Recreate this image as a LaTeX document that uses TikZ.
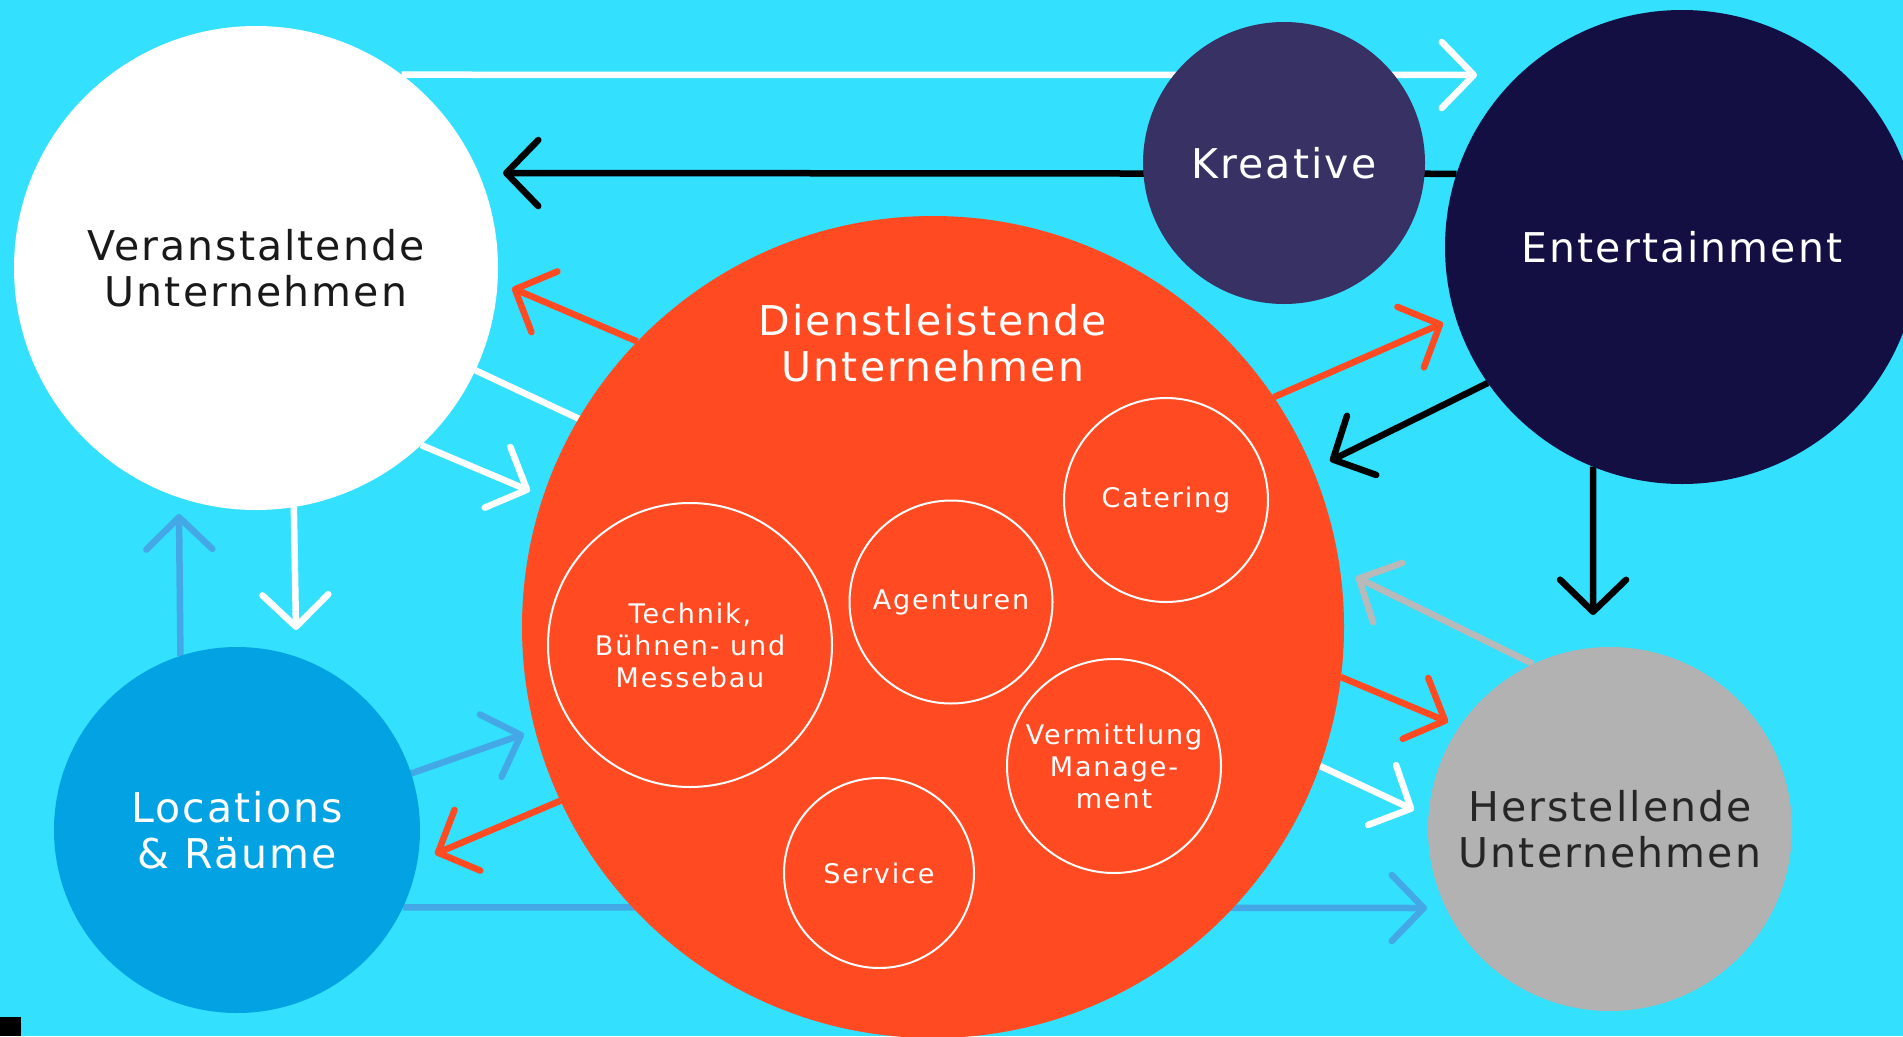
\documentclass[tikz,border=0pt]{standalone}
\usepackage{fontspec}
\setmainfont{DejaVu Sans}
\newfontfamily\bubblefont[LetterSpace=5]{DejaVu Sans}
\newfontfamily\partfont[LetterSpace=7]{DejaVu Sans}
\usetikzlibrary{arrows.meta}
\definecolor{skycyan}{HTML}{33E0FE}
\definecolor{dienstred}{HTML}{FF4A22}
\definecolor{kreaviolet}{HTML}{373263}
\definecolor{entnavy}{HTML}{130F42}
\definecolor{locblue}{HTML}{03A2E2}
\definecolor{hergray}{HTML}{B2B2B2}
\definecolor{flowblue}{HTML}{45A8E6}
\definecolor{flowgray}{HTML}{B9B9B9}
\pgfdeclarelayer{back}
\pgfsetlayers{back,main}
\tikzset{
  bubble/.style={circle, inner sep=0pt, outer sep=0pt, align=center, font=\bubblefont\fontsize{41}{46}\selectfont},
  part/.style={circle, draw=white, line width=2pt, inner sep=0pt, outer sep=0pt, align=center, text=white, font=\partfont\fontsize{27}{32}\selectfont},
  flow/.style={line width=6.5pt, -{Straight Barb[length=32pt, width=66pt, round]}}
}

\begin{document}
\begin{tikzpicture}[x=1pt, y=-1pt]
        \useasboundingbox (0,0) rectangle (1903,1036);
        \begin{pgfonlayer}{back}
        \fill[skycyan] (0,0) rectangle (1903,1036);
        \end{pgfonlayer}
        \node (ver) at (256, 268) [bubble, fill=white, text=black!90, minimum size=484pt] {Veranstaltende\\Unternehmen};
        \node (ent) at (1682, 247) [bubble, fill=entnavy, text=white, minimum size=474pt] {Entertainment};
        \node (kre) at (1284, 163) [bubble, fill=kreaviolet, text=white, minimum size=282pt] {Kreative};
        \node (dis) at (933, 627) [circle, fill=dienstred, inner sep=0pt, outer sep=0pt, minimum size=822pt] {};
        \node (distitle) at (933, 343) [align=center, text=white, font=\bubblefont\fontsize{41}{46}\selectfont] {Dienstleistende\\Unternehmen};
        \node (loc) at (237, 830) [bubble, fill=locblue, text=white, minimum size=366pt] {Locations\\\& Räume};
        \node (her) at (1610, 829) [bubble, fill=hergray, text=black!85, minimum size=364pt] {Herstellende\\Unternehmen};
        \node (tec) at (690, 645) [part, minimum size=284pt] {Technik,\\Bühnen- und\\Messebau};
        \node (age) at (951, 602) [part, minimum size=203pt] {Agenturen};
        \node (cat) at (1166, 500) [part, minimum size=204pt] {Catering};
        \node (vmi) at (1114, 766) [part, minimum size=214pt] {Vermittlung\\Manage-\\ment};
        \node (ser) at (879, 873) [part, minimum size=190pt] {Service};
        \fill[black] (0,1017) rectangle (21,1036);
        \coordinate (tipentw) at (1477, 75);
        \coordinate (tipverb) at (503, 173);
        \coordinate (tipverr) at (512, 288);
        \coordinate (tipherw) at (1414, 810);
        \coordinate (tipdisw) at (530, 491);
        \coordinate (tiplocw) at (296, 630);
        \coordinate (tipverl) at (179, 514);
        \coordinate (tipdisl) at (524, 734);
        \coordinate (tiplocr) at (435, 854);
        \coordinate (tipherl) at (1427, 908);
        \coordinate (tipdisg) at (1356, 577);
        \coordinate (tipherr) at (1448, 722);
        \coordinate (tipdisb) at (1330, 461);
        \coordinate (tipentr) at (1443, 323);
        \coordinate (tipherb) at (1593, 615);
        \begin{pgfonlayer}{back}
        \draw[flow, white] (ver.53) -- (tipentw);
        \draw[flow, black] (ent.162) -- (tipverb);
        \draw[flow, dienstred] (dis.136) -- (tipverr);
        \draw[flow, white] (ver.-25) -- (tipherw);
        \draw[flow, white] (ver.-47) -- (tipdisw);
        \draw[flow, white] (ver.-81) -- (tiplocw);
        \draw[flow, flowblue] (loc.108) -- (tipverl);
        \draw[flow, flowblue] (loc.18) -- (tipdisl);
        \draw[flow, dienstred] (dis.205) -- (tiplocr);
        \draw[flow, flowblue] (loc.-25) -- (tipherl);
        \draw[flow, flowgray] (her.115) -- (tipdisg);
        \draw[flow, dienstred] (dis.-7) -- (tipherr);
        \draw[flow, black] (ent.215) -- (tipdisb);
        \draw[flow, dienstred] (dis.34) -- (tipentr);
        \draw[flow, black] (ent.-112) -- (tipherb);
        \end{pgfonlayer}
    \end{tikzpicture}
\end{document}
